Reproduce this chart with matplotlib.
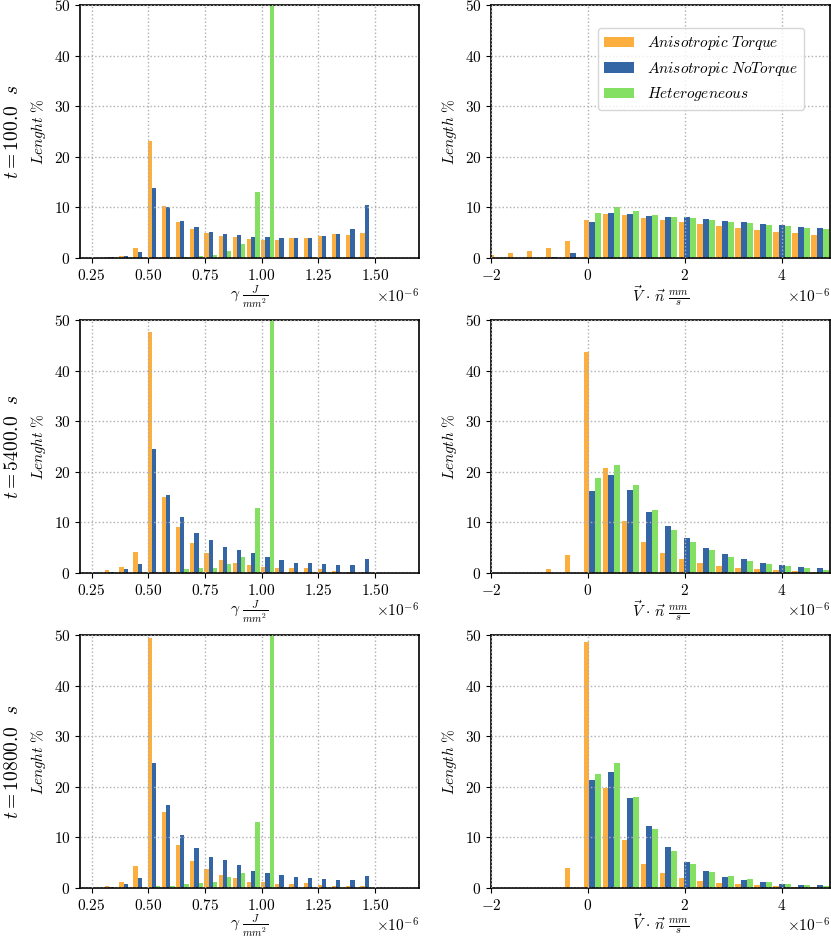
import numpy as np
import matplotlib
matplotlib.use("Agg")
import matplotlib.pyplot as plt

# === STYLE ===
plt.rcParams['font.family'] = 'serif'
plt.rcParams['font.serif'] = ['cmr10', 'DejaVu Serif']
plt.rcParams['mathtext.fontset'] = 'cm'
plt.rcParams['axes.formatter.use_mathtext'] = True
plt.rcParams['font.size'] = 11
plt.rcParams['axes.unicode_minus'] = True

colors = ['#FCAF3E', '#3465A4', '#84E062']
labels = [r'$Anisotropic\ Torque$', r'$Anisotropic\ NoTorque$', r'$Heterogeneous$']
times = ['100.0', '5400.0', '10800.0']

# === DATA (percent of length per bin) ===
# gamma bins (J/mm^2)
gamma_edges = np.linspace(0.244e-6, 1.619e-6, 23)

gamma_torque = [
    [0, 0.3, 0.5, 1.9, 23.2, 10.2, 7.1, 5.7, 5.0, 4.3, 4.1, 3.7, 3.6, 3.6, 3.9, 4.0, 4.3, 4.7, 4.5, 5.0, 0, 0],
    [0.2, 0.5, 1.1, 4.1, 47.6, 15.0, 9.0, 5.9, 3.9, 2.6, 1.9, 1.5, 1.2, 0.9, 0.9, 1.0, 0.7, 0.4, 0.3, 0.3, 0, 0],
    [0.1, 0.4, 1.1, 4.3, 49.5, 15.1, 8.5, 5.4, 3.7, 2.5, 1.9, 1.2, 1.1, 0.8, 0.7, 0.9, 0.6, 0.3, 0.3, 0.3, 0, 0],
]
gamma_notorque = [
    [0, 0.3, 0.5, 1.1, 13.9, 10.0, 7.4, 6.2, 5.1, 4.8, 4.5, 4.2, 4.1, 4.0, 4.0, 4.0, 4.4, 4.8, 5.8, 10.4, 0, 0],
    [0, 0.3, 0.7, 1.7, 24.5, 15.5, 11.1, 7.9, 6.6, 5.1, 4.5, 3.9, 3.1, 2.6, 2.0, 2.0, 1.8, 1.5, 1.5, 2.7, 0, 0],
    [0, 0.2, 0.7, 2.0, 24.7, 16.4, 10.5, 7.9, 6.1, 5.5, 4.5, 3.4, 3.0, 2.5, 2.2, 1.9, 1.8, 1.6, 1.5, 2.4, 0, 0],
]
gamma_hetero = [
    [0, 0, 0, 0, 0, 0.15, 0.3, 0.5, 0.7, 1.4, 2.8, 13.1, 81.0, 0, 0, 0, 0, 0, 0, 0, 0, 0],
    [0, 0, 0, 0, 0, 0.3, 0.7, 0.9, 1.0, 1.8, 3.1, 12.8, 79.4, 0, 0, 0, 0, 0, 0, 0, 0, 0],
    [0, 0, 0, 0, 0.3, 0.3, 0.8, 0.9, 1.2, 2.1, 2.9, 13.0, 78.5, 0, 0, 0, 0, 0, 0, 0, 0, 0],
]

# normal velocity bins (mm/s)
vn_edges = np.linspace(-2.069e-6, 4.987e-6, 19)

vn_torque = [
    [0.7, 1.0, 1.3, 1.9, 3.3, 7.6, 8.7, 8.5, 8.0, 7.6, 7.2, 6.8, 6.3, 5.9, 5.6, 5.2, 4.9, 4.6],
    [0, 0, 0, 0.7, 3.5, 43.6, 20.8, 10.3, 6.2, 3.9, 2.7, 1.9, 1.3, 1.0, 0.7, 0.6, 0.4, 0.3],
    [0, 0, 0, 0, 3.9, 48.7, 19.7, 9.4, 4.8, 2.9, 2.0, 1.4, 1.0, 0.7, 0.5, 0.3, 0.2, 0.2],
]
vn_notorque = [
    [0, 0, 0, 0.2, 1.0, 7.1, 9.0, 8.8, 8.4, 8.2, 8.1, 7.8, 7.4, 7.2, 6.8, 6.6, 6.2, 5.9],
    [0, 0, 0, 0, 0, 16.3, 19.4, 16.4, 12.1, 9.2, 7.0, 5.0, 3.8, 2.7, 2.0, 1.6, 1.1, 0.9],
    [0, 0, 0, 0, 0, 21.4, 23.0, 17.7, 12.3, 8.2, 5.1, 3.4, 2.2, 1.6, 1.2, 0.8, 0.5, 0.5],
]
vn_hetero = [
    [0, 0, 0, 0, 0, 8.9, 10.0, 9.2, 8.5, 8.2, 7.9, 7.5, 7.2, 6.9, 6.6, 6.4, 5.9, 5.7],
    [0, 0, 0, 0, 0, 18.8, 21.3, 17.3, 12.4, 8.5, 6.2, 4.5, 3.2, 2.3, 1.8, 1.3, 0.9, 0.6],
    [0, 0, 0, 0, 0, 22.5, 24.8, 18.0, 11.6, 7.3, 4.8, 3.2, 2.4, 1.7, 1.1, 0.7, 0.5, 0.4],
]

# === PLOT ===
fig = plt.figure(figsize=(8.31, 9.38), dpi=100)
row_bottoms = [0.7249, 0.3891, 0.0533]
h = 0.2697
w = 0.408


def draw(ax, edges, series, xlim, xticks, xlabel, ylabel, pad):
    centers = (edges[:-1] + edges[1:]) / 2
    ax.hist([centers] * 3, bins=edges, weights=series, rwidth=0.9,
            color=colors, label=labels)
    ax.set_xlim(xlim)
    ax.set_ylim(0, 50)
    ax.set_xticks(xticks)
    ax.set_yticks([0, 10, 20, 30, 40, 50])
    ax.set_axisbelow(False)
    ax.grid(True, linestyle=':', color='#b0b0b0', linewidth=1.0)
    ax.set_xlabel(xlabel, labelpad=pad)
    ax.set_ylabel(ylabel)
    for s in ax.spines.values():
        s.set_linewidth(1.2)


for i in range(3):
    # last row sits at the figure edge, pull its label up a touch
    pad = -0.3 if i == 2 else 0.5

    axl = fig.add_axes([0.0963, row_bottoms[i], w, h])
    draw(axl, gamma_edges, [gamma_torque[i], gamma_notorque[i], gamma_hetero[i]],
         (0.199e-6, 1.694e-6), np.array([0.25, 0.5, 0.75, 1.0, 1.25, 1.5]) * 1e-6,
         r'$\gamma\ \frac{J}{mm^2}$', r'$Lenght\ \%$', pad)

    axr = fig.add_axes([0.5909, row_bottoms[i], w, h])
    draw(axr, vn_edges, [vn_torque[i], vn_notorque[i], vn_hetero[i]],
         (-2e-6, 5e-6), np.array([-2, 0, 2, 4]) * 1e-6,
         r'$\vec{V}\,\cdot\,\vec{n}\ \frac{mm}{s}$', r'$Length\ \%$', pad)

    fig.text(0.016, row_bottoms[i] + h / 2, r'$t = ' + times[i] + r'\ \ s$',
             rotation=90, ha='center', va='center', fontsize=14)

    if i == 0:
        axr.legend(loc='upper right', bbox_to_anchor=(0.923, 0.909),
                   borderaxespad=0, fontsize=11)

plt.savefig("out.png", dpi=100)
